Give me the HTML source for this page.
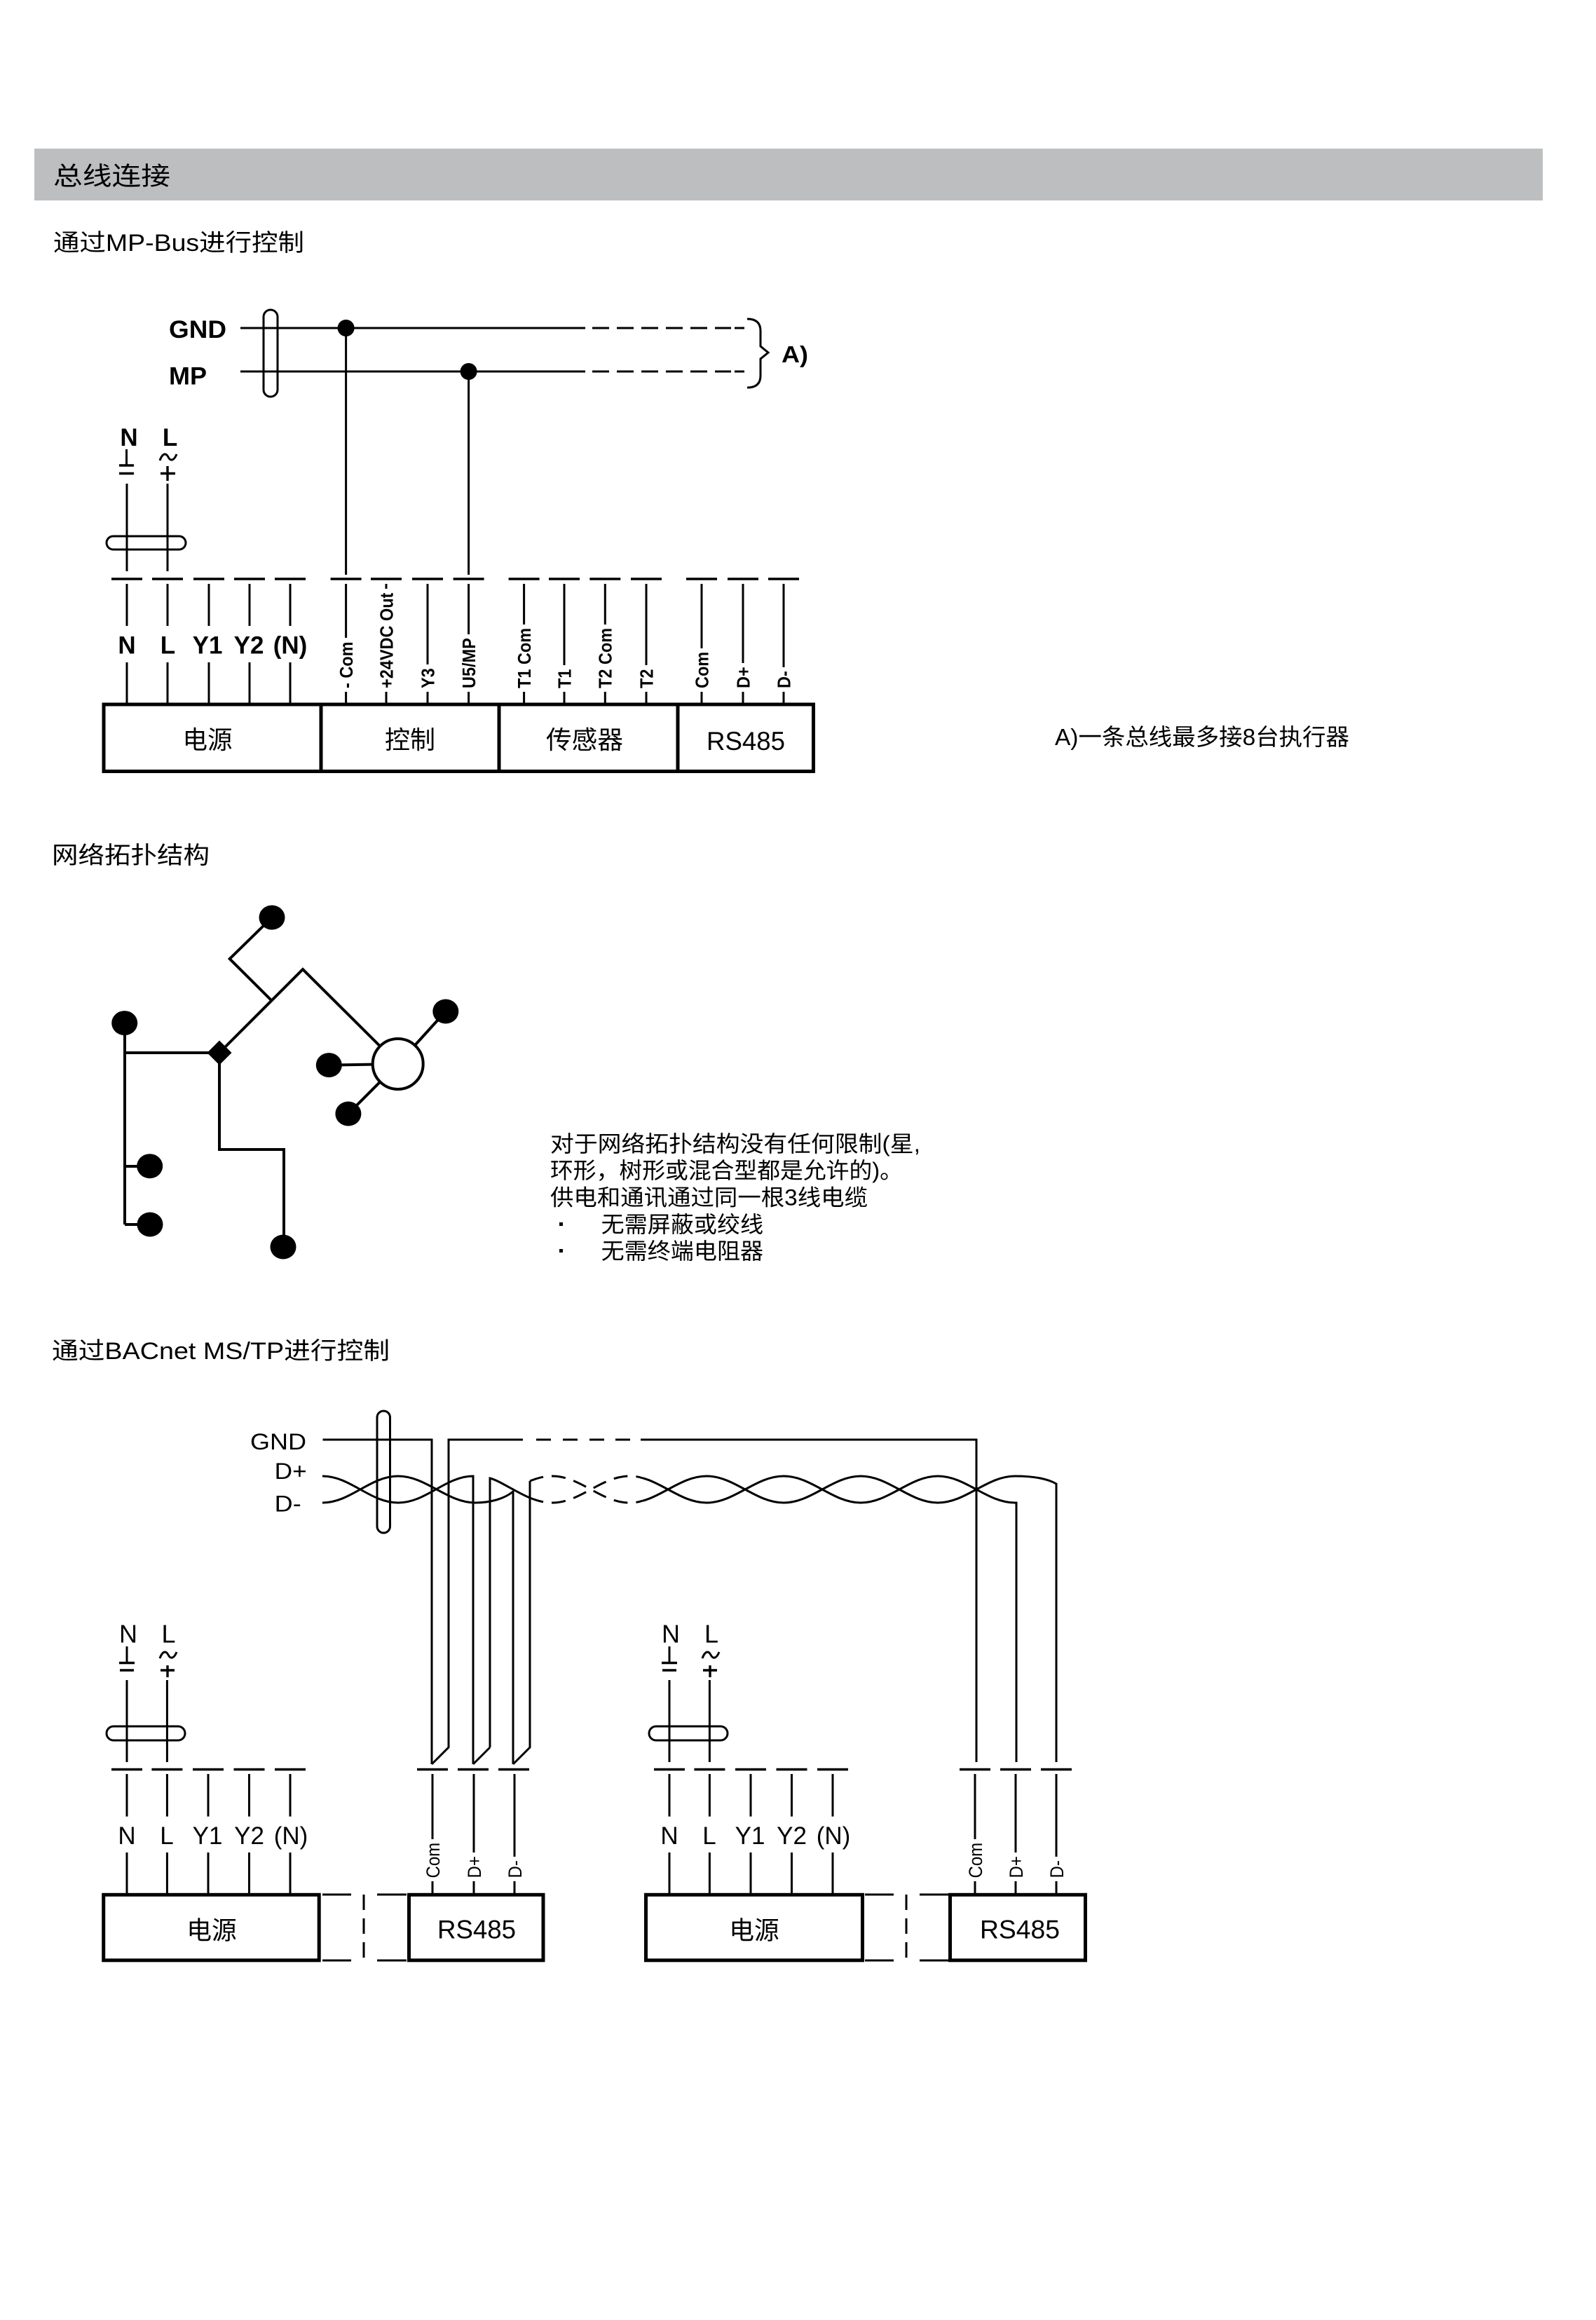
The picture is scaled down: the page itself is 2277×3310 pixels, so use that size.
<!DOCTYPE html>
<html><head><meta charset="utf-8">
<style>
html,body{margin:0;padding:0;background:#fff;}
svg{display:block}
text{font-family:"Liberation Sans","Noto Sans CJK SC",sans-serif;fill:#000}
.b{font-weight:bold}
.l{stroke:#000;stroke-width:3;fill:none;stroke-linecap:butt}
.t{stroke:#000;stroke-width:3.4;fill:none}
.bx{stroke:#000;stroke-width:5;fill:none}
.tp{stroke:#000;stroke-width:4;fill:none}
</style></head>
<body>
<svg width="2277" height="3310" viewBox="0 0 2277 3310" xmlns="http://www.w3.org/2000/svg">
<rect x="0" y="0" width="2277" height="3310" fill="#fff"/>

<!-- Header -->
<rect x="49" y="212" width="2152" height="74" fill="#bdbec0"/>
<text x="76" y="263.5" font-size="36" textLength="167" lengthAdjust="spacingAndGlyphs">总线连接</text>

<text x="76" y="358" font-size="34" textLength="358" lengthAdjust="spacingAndGlyphs">通过MP-Bus进行控制</text>

<!-- ============ Diagram 1 (MP-Bus) ============ -->
<text class="b" x="241" y="482" font-size="35" textLength="82" lengthAdjust="spacingAndGlyphs">GND</text>
<text class="b" x="241" y="548.6" font-size="35" textLength="54" lengthAdjust="spacingAndGlyphs">MP</text>

<path class="l" d="M343,468H835 M343,530H835"/>
<path class="l" d="M845,468h24 M880,468h24 M915,468h24 M950,468h24 M985,468h24 M1020,468h23 M1048,468h14
M845,530h24 M880,530h24 M915,530h24 M950,530h24 M985,530h24 M1020,530h23 M1048,530h14"/>
<path class="l" d="M1066,455 Q1085,455 1085,472 V494 L1096,503 L1085,512 V536 Q1085,553 1066,553"/>
<text class="b" x="1115" y="517" font-size="33" textLength="38" lengthAdjust="spacingAndGlyphs">A)</text>

<rect class="l" x="376" y="442" width="20" height="124" rx="10"/>
<circle cx="493.6" cy="468" r="12" fill="#000"/>
<circle cx="668.6" cy="530" r="12" fill="#000"/>

<text class="b" x="184" y="636" font-size="35" text-anchor="middle">N</text>
<text class="b" x="242.6" y="636" font-size="35" text-anchor="middle">L</text>
<path class="l" d="M180.5,641V663"/>
<path class="t" d="M170,664H191 M170,675.5H191"/>
<path class="l" d="M228,657 C232,646 237,646 240,652 C243,658 248,658 252,648"/>
<path class="t" d="M229,675.5H250 M239,665V686"/>

<path class="l" d="M181,690V815 M239,690V815 M493.6,468V820 M668.6,530V820"/>
<rect class="l" x="152" y="765" width="113" height="19" rx="9.5"/>

<path class="t" d="M159,826h44 M217,826h44 M276,826h44 M334,826h44 M392,826h44 M471.6,826h44 M529,826h44 M588,826h44 M646.6,826h44 M725.6,826h44 M783,826h44 M841.3,826h44 M900,826h44 M979,826h44 M1038,826h44 M1096,826h44"/>

<path class="l" d="M181,833V893 M181,945V1003 M239,833V893 M239,945V1003 M298,833V893 M298,945V1003 M356,833V893 M356,945V1003 M414,833V893 M414,945V1003"/>
<text class="b" x="181" y="932.5" font-size="35" text-anchor="middle">N</text>
<text class="b" x="239.5" y="932.5" font-size="35" text-anchor="middle">L</text>
<text class="b" x="296" y="932.5" font-size="35" text-anchor="middle">Y1</text>
<text class="b" x="355" y="932.5" font-size="35" text-anchor="middle">Y2</text>
<text class="b" x="414" y="932.5" font-size="35" text-anchor="middle">(N)</text>

<path class="l" d="M493.6,833V910 M493.6,987V1003
M551,833V840 M551,987V1003
M610,833V948 M610,987V1003
M668.6,833V905 M668.6,987V1003
M747.6,833V891 M747.6,987V1003
M805,833V949 M805,987V1003
M863.3,833V891 M863.3,987V1003
M922,833V949 M922,987V1003
M1001,833V925 M1001,987V1003
M1060,833V946 M1060,987V1003
M1118,833V952 M1118,987V1003"/>
<g class="b" font-size="23.5">
<text transform="translate(502.9,982) scale(1.1,1) rotate(-90)">- Com</text>
<text transform="translate(560.3,982) scale(1.1,1) rotate(-90)">+24VDC Out</text>
<text transform="translate(619.3,982) scale(1.1,1) rotate(-90)">Y3</text>
<text transform="translate(677.9,982) scale(1.1,1) rotate(-90)">U5/MP</text>
<text transform="translate(756.9,982) scale(1.1,1) rotate(-90)">T1 Com</text>
<text transform="translate(814.3,982) scale(1.1,1) rotate(-90)">T1</text>
<text transform="translate(872.6,982) scale(1.1,1) rotate(-90)">T2 Com</text>
<text transform="translate(931.3,982) scale(1.1,1) rotate(-90)">T2</text>
<text transform="translate(1010.3,982) scale(1.1,1) rotate(-90)">Com</text>
<text transform="translate(1069.3,982) scale(1.1,1) rotate(-90)">D+</text>
<text transform="translate(1127.3,982) scale(1.1,1) rotate(-90)">D-</text>
</g>

<rect class="bx" x="148" y="1005" width="310" height="95.5"/>
<rect class="bx" x="458" y="1005" width="254" height="95.5"/>
<rect class="bx" x="712" y="1005" width="255" height="95.5"/>
<rect class="bx" x="967" y="1005" width="193.5" height="95.5"/>
<text x="296" y="1068" font-size="36" text-anchor="middle" textLength="71" lengthAdjust="spacingAndGlyphs">电源</text>
<text x="585" y="1068" font-size="36" text-anchor="middle" textLength="72" lengthAdjust="spacingAndGlyphs">控制</text>
<text x="834" y="1068" font-size="36" text-anchor="middle" textLength="110" lengthAdjust="spacingAndGlyphs">传感器</text>
<text x="1064" y="1070" font-size="37" text-anchor="middle" textLength="112" lengthAdjust="spacingAndGlyphs">RS485</text>

<text x="1505" y="1063" font-size="33" textLength="420" lengthAdjust="spacingAndGlyphs">A)一条总线最多接8台执行器</text>

<!-- ============ Topology ============ -->
<text x="74" y="1232" font-size="34" textLength="225" lengthAdjust="spacingAndGlyphs">网络拓扑结构</text>
<path class="tp" d="M388,1309 L327.7,1368 L387,1427"/>
<path class="tp" d="M313,1502 L432,1383 L567.7,1518"/>
<path class="tp" d="M567.7,1518 L635.8,1443 M567.7,1518 L469.3,1519.6 M567.7,1518 L496.9,1589"/>
<path class="tp" d="M178,1459 V1747 M178,1502 H313 M178,1664 H214 M178,1747 H214"/>
<path class="tp" d="M313,1502 V1640 H405 V1779"/>
<circle cx="567.7" cy="1518" r="36" fill="#fff" stroke="#000" stroke-width="4"/>
<polygon points="313,1484.5 330.5,1502 313,1519.5 295.5,1502" fill="#000"/>
<g fill="#000">
<ellipse cx="388" cy="1309" rx="18.5" ry="17.5"/>
<ellipse cx="177.7" cy="1459.6" rx="18.5" ry="17.5"/>
<ellipse cx="213.7" cy="1663.7" rx="18.5" ry="17.5"/>
<ellipse cx="214" cy="1747" rx="18.5" ry="17.5"/>
<ellipse cx="404" cy="1779" rx="18.5" ry="17.5"/>
<ellipse cx="635.8" cy="1443" rx="18.5" ry="17.5"/>
<ellipse cx="469.3" cy="1519.6" rx="18.5" ry="17.5"/>
<ellipse cx="496.9" cy="1589" rx="18.5" ry="17.5"/>
</g>

<text x="785" y="1643" font-size="32" textLength="528" lengthAdjust="spacingAndGlyphs">对于网络拓扑结构没有任何限制(星,</text>
<text x="785" y="1681" font-size="32" textLength="503" lengthAdjust="spacingAndGlyphs">环形，树形或混合型都是允许的)。</text>
<text x="785" y="1719.5" font-size="32" textLength="453" lengthAdjust="spacingAndGlyphs">供电和通讯通过同一根3线电缆</text>
<rect x="798" y="1744" width="5" height="5" fill="#000"/>
<text x="857.6" y="1758" font-size="32" textLength="231.5" lengthAdjust="spacingAndGlyphs">无需屏蔽或绞线</text>
<rect x="798" y="1782" width="5" height="5" fill="#000"/>
<text x="857.6" y="1796" font-size="32" textLength="231.5" lengthAdjust="spacingAndGlyphs">无需终端电阻器</text>

<!-- ============ Diagram 3 (BACnet) ============ -->
<text x="74" y="1939" font-size="34" textLength="482" lengthAdjust="spacingAndGlyphs">通过BACnet MS/TP进行控制</text>

<text x="357" y="2068" font-size="32" textLength="80" lengthAdjust="spacingAndGlyphs">GND</text>
<text x="391.7" y="2110" font-size="32" textLength="46" lengthAdjust="spacingAndGlyphs">D+</text>
<text x="391.7" y="2156.7" font-size="32" textLength="38" lengthAdjust="spacingAndGlyphs">D-</text>

<!-- GND -->
<path class="l" d="M460.5,2054H616V2517 M616,2517L640,2493V2054H746"/>
<path class="l" d="M765,2054h21 M803,2054h21 M841,2054h21 M878,2054h21"/>
<path class="l" d="M914,2054H1393V2514"/>

<!-- twisted pair -->
<path class="l" d="M460,2106 C500,2106 528,2144 568,2144 C608,2144 636,2106 675,2106 V2517"/>
<path class="l" d="M460,2144 C500,2144 528,2106 568,2106 C608,2106 638,2144 678,2144 C700,2144 720,2138 732,2128 V2517"/>
<path class="l" d="M699,2493 V2109 C712,2112 738,2130 756,2137"/>
<path class="l" d="M699,2493 L675,2517 M756,2113 V2493 L732,2517"/>
<path class="l" stroke-dasharray="20 12" d="M756,2137 C766,2141 776,2144 788,2144 C828,2144 858,2106 898,2106 C906,2106 912,2107 917,2109"/>
<path class="l" stroke-dasharray="20 12" d="M756,2113 C766,2109 776,2106 788,2106 C828,2106 858,2144 898,2144 C906,2144 912,2143 917,2141"/>
<clipPath id="cr"><rect x="917" y="2000" width="700" height="600"/></clipPath>
<g clip-path="url(#cr)">
<path class="l" d="M898,2106 C938,2106 968,2144 1008,2144 C1048,2144 1078,2106 1118,2106 C1158,2106 1188,2144 1228,2144 C1268,2144 1298,2106 1338,2106 C1378,2106 1408,2144 1448,2144 H1450 V2514"/>
<path class="l" d="M898,2144 C938,2144 968,2106 1008,2106 C1048,2106 1078,2144 1118,2144 C1158,2144 1188,2106 1228,2106 C1268,2106 1298,2144 1338,2144 C1378,2144 1408,2106 1448,2106 C1475,2106 1495,2110 1507,2117 V2514"/>
</g>
<rect class="l" x="538" y="2013" width="18.5" height="174" rx="9.25"/>

<!-- Device 1 power -->
<text x="183" y="2343.7" font-size="36" text-anchor="middle">N</text>
<text x="240.5" y="2343.7" font-size="36" text-anchor="middle">L</text>
<path class="l" d="M181,2349V2371"/>
<path class="t" d="M170,2372.5H192 M171,2383H191"/>
<path class="l" d="M228,2366 C232,2355 237,2355 240,2361 C243,2367 248,2367 252,2357"/>
<path class="t" d="M229,2383H249 M239,2376V2393"/>
<path class="l" d="M181,2397V2514 M238.4,2397V2514"/>
<rect class="l" x="152" y="2463" width="112" height="20" rx="10"/>

<!-- Device 2 power -->
<text x="957" y="2343.7" font-size="36" text-anchor="middle">N</text>
<text x="1015" y="2343.7" font-size="36" text-anchor="middle">L</text>
<path class="l" d="M955,2349V2371"/>
<path class="t" d="M944,2372.5H966 M945,2383H965"/>
<path class="l" d="M1002,2366 C1006,2355 1011,2355 1014,2361 C1017,2367 1022,2367 1026,2357"/>
<path class="t" d="M1003,2383H1023 M1013,2376V2393"/>
<path class="l" d="M955,2397V2514 M1012.4,2397V2514"/>
<rect class="l" x="926" y="2463" width="112" height="20" rx="10"/>

<!-- dashes row -->
<path class="t" d="M159,2524.5h44 M216.4,2524.5h44 M275,2524.5h44 M333.5,2524.5h44 M392,2524.5h44
M595,2524.5h44 M653,2524.5h44 M711,2524.5h44
M933,2524.5h44 M990.4,2524.5h44 M1049,2524.5h44 M1107.5,2524.5h44 M1166,2524.5h44
M1369,2524.5h44 M1427,2524.5h44 M1485,2524.5h44"/>

<!-- lower terminal lines -->
<path class="l" d="M181,2531V2591.6 M181,2643V2701 M238.4,2531V2591.6 M238.4,2643V2701 M297,2531V2591.6 M297,2643V2701 M355.5,2531V2591.6 M355.5,2643V2701 M414,2531V2591.6 M414,2643V2701
M955,2531V2591.6 M955,2643V2701 M1012.4,2531V2591.6 M1012.4,2643V2701 M1071,2531V2591.6 M1071,2643V2701 M1129.5,2531V2591.6 M1129.5,2643V2701 M1188,2531V2591.6 M1188,2643V2701"/>
<g font-size="35" text-anchor="middle">
<text x="181" y="2631">N</text><text x="238" y="2631">L</text><text x="296" y="2631">Y1</text><text x="355.5" y="2631">Y2</text><text x="415" y="2631">(N)</text>
<text x="955" y="2631">N</text><text x="1012" y="2631">L</text><text x="1070" y="2631">Y1</text><text x="1129.5" y="2631">Y2</text><text x="1189" y="2631">(N)</text>
</g>

<path class="l" d="M617,2531V2624 M617,2684V2701 M676,2531V2643 M676,2684V2701 M734,2531V2649 M734,2684V2701
M1391,2531V2624 M1391,2684V2701 M1449,2531V2643 M1449,2684V2701 M1507,2531V2649 M1507,2684V2701"/>
<g font-size="24">
<text transform="translate(627,2679.5) scale(1.1,1) rotate(-90)">Com</text>
<text transform="translate(686,2679.5) scale(1.1,1) rotate(-90)">D+</text>
<text transform="translate(744,2679.5) scale(1.1,1) rotate(-90)">D-</text>
<text transform="translate(1401,2679.5) scale(1.1,1) rotate(-90)">Com</text>
<text transform="translate(1459,2679.5) scale(1.1,1) rotate(-90)">D+</text>
<text transform="translate(1517,2679.5) scale(1.1,1) rotate(-90)">D-</text>
</g>

<!-- boxes -->
<rect class="bx" x="147.7" y="2703.3" width="307.5" height="93.5"/>
<rect class="bx" x="583.5" y="2703.3" width="191.5" height="93.5"/>
<rect class="bx" x="921.5" y="2703.3" width="309" height="93.5"/>
<rect class="bx" x="1355.5" y="2703.3" width="193" height="93.5"/>
<text x="302" y="2766.5" font-size="36" text-anchor="middle" textLength="71.5" lengthAdjust="spacingAndGlyphs">电源</text>
<text x="680" y="2765.5" font-size="37" text-anchor="middle" textLength="112" lengthAdjust="spacingAndGlyphs">RS485</text>
<text x="1076" y="2766.5" font-size="36" text-anchor="middle" textLength="71.5" lengthAdjust="spacingAndGlyphs">电源</text>
<text x="1455" y="2765.5" font-size="37" text-anchor="middle" textLength="114" lengthAdjust="spacingAndGlyphs">RS485</text>

<!-- dashed connectors -->
<path class="l" d="M460,2703H501 M538,2703H580 M460,2797H501 M538,2797H580"/>
<path class="l" stroke-dasharray="22 12" d="M519,2703V2797"/>
<path class="l" d="M1234,2703H1275 M1312,2703H1354 M1234,2797H1275 M1312,2797H1354"/>
<path class="l" stroke-dasharray="22 12" d="M1293,2703V2797"/>

</svg>
</body></html>
